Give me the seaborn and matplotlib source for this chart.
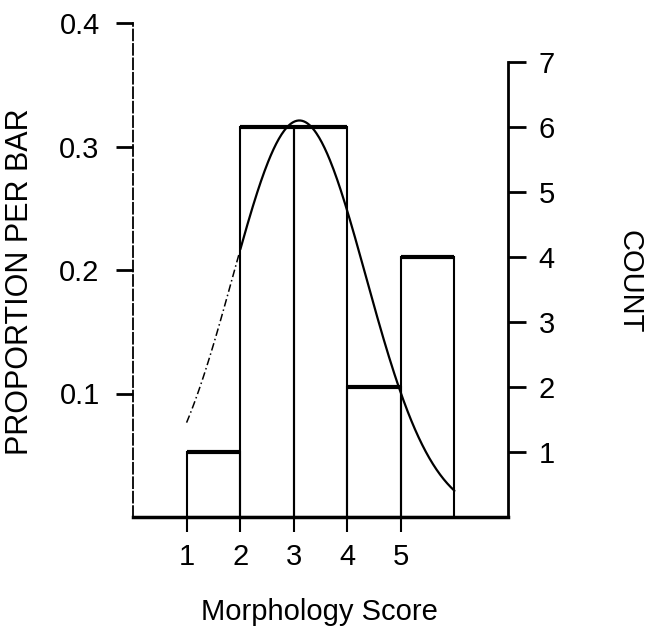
import numpy as np
import pandas as pd
import matplotlib
matplotlib.use("Agg")
import matplotlib.pyplot as plt
import seaborn as sns

# Morphology scores and how many specimens received each one
score_values = [1, 2, 3, 4, 5]
score_counts = [1, 6, 6, 2, 4]
bin_edges = [1, 2, 3, 4, 5, 6]

# Axis ticks
prop_ticks = [0.1, 0.2, 0.3, 0.4]
prop_labels = ["0.1", "0.2", "0.3", "0.4"]
count_ticks = [1, 2, 3, 4, 5, 6, 7]
x_ticks = [1, 2, 3, 4, 5]

sns.set_style("ticks")
plt.rcParams["font.family"] = ["Liberation Sans", "DejaVu Sans"]
for key in ("text.color", "axes.labelcolor", "xtick.color", "ytick.color", "axes.edgecolor"):
    plt.rcParams[key] = "black"

df = pd.DataFrame({"score": score_values, "n": score_counts})
total = df["n"].sum()

fig = plt.figure(figsize=(6.49, 6.35), dpi=100)
ax = fig.add_axes([133 / 649, 118 / 635, 375 / 649, 494 / 635])

# Histogram as proportion per bar (unfilled bars)
sns.histplot(data=df, x="score", weights="n", bins=bin_edges, stat="proportion",
             fill=False, color="black", linewidth=1.5, ax=ax)
for p in list(ax.patches):
    x0, w, h = p.get_x(), p.get_width(), p.get_height()
    ax.plot([x0, x0 + w], [h, h], color="black", lw=3, solid_capstyle="butt")

# Fitted normal curve (same scale: bin width 1)
scores = np.repeat(score_values, score_counts)
mu, sd = scores.mean(), scores.std(ddof=1)
grid = np.linspace(bin_edges[0], bin_edges[-1], 300)
dens = np.exp(-0.5 * ((grid - mu) / sd) ** 2) / (sd * np.sqrt(2 * np.pi))
left = grid <= 2
sns.lineplot(x=grid[left], y=dens[left], color="black", lw=1.1, ax=ax,
             linestyle=(0, (5, 2, 1, 2)))
sns.lineplot(x=grid[~left], y=dens[~left], color="black", lw=1.6, ax=ax)

ax.set_xlim(0, 7)
ax.set_ylim(0, 0.4)
ax.set_yticks(prop_ticks)
ax.set_yticklabels(prop_labels)
ax.set_xticks(x_ticks)
ax.set_xticklabels([str(v) for v in x_ticks])
ax.tick_params(axis="y", length=12, width=2, pad=12, labelsize=21)
ax.tick_params(axis="x", length=11, width=1.5, pad=8, labelsize=21)

ax.spines["top"].set_visible(False)
ax.spines["right"].set_visible(False)
ax.spines["left"].set_linewidth(1.3)
ax.spines["left"].set_linestyle((0, (6, 2)))
ax.spines["bottom"].set_linewidth(2.5)

ax.set_xlabel("Morphology Score", fontsize=21, va="top")
ax.xaxis.set_label_coords(0.496, -0.164)
ax.set_ylabel("PROPORTION PER BAR", fontsize=22, va="bottom")
ax.yaxis.set_label_coords(-0.261, 0.476)

# Count axis on the right
ax2 = ax.twinx()
ax2.set_ylim(0, 0.4 * total)
ax2.set_yticks(count_ticks)
ax2.set_yticklabels([str(v) for v in count_ticks])
ax2.tick_params(axis="y", length=13, width=2, pad=9, labelsize=21)
for side in ("top", "left", "bottom"):
    ax2.spines[side].set_visible(False)
ax2.spines["right"].set_linewidth(2)
ax2.spines["right"].set_bounds(0, 7)
ax2.set_ylabel("COUNT", fontsize=21, rotation=270, va="center")
ax2.yaxis.set_label_coords(1.325, 0.476)

fig.savefig("out.png", dpi=100, facecolor="white")
